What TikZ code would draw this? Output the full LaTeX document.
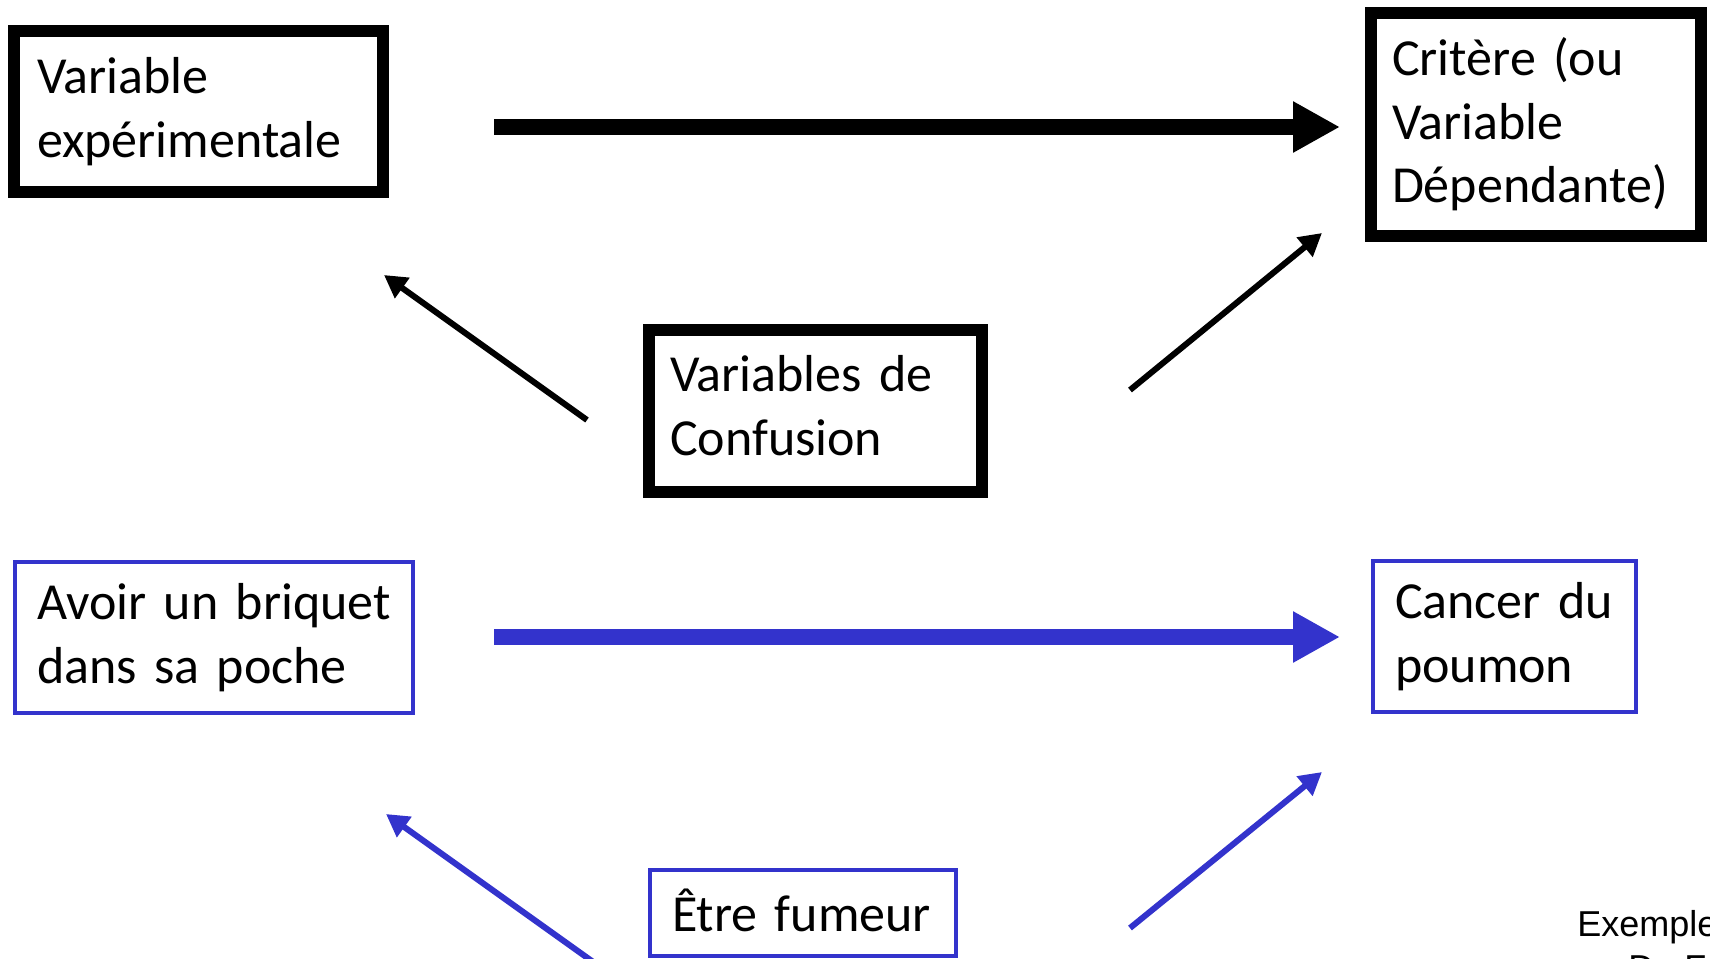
\documentclass[tikz,border=0pt]{standalone}
\usepackage{fontspec}
\setmainfont{Carlito}[WordSpace=0.85]
\newfontfamily\notefont{Liberation Sans}
\usepackage{xcolor}
\usetikzlibrary{arrows.meta}

\definecolor{exblue}{RGB}{51,51,204}

\tikzset{
  varbox/.style={draw, line width=6pt, outer sep=0pt, inner ysep=0pt,
    anchor=north west, align=left, font=\fontsize{26pt}{31.75pt}\selectfont},
  exbox/.style={varbox, draw=exblue, line width=1.75pt},
  bigarrow/.style={-{Triangle[length=23.5pt,width=24pt]}, line width=8pt},
  linkarrow/.style={-{Triangle[length=11.25pt,width=12pt]}, line width=3pt},
}

\begin{document}
\begin{tikzpicture}[x=0.5pt, y=-0.5pt]
  \useasboundingbox (0,0) rectangle (1710,959);
  \clip (0,0) rectangle (1710,959);

  % general scheme
  \node[varbox, inner xsep=11.5pt, text width=161.5pt, minimum height=80.5pt]
    (varexp) at (14,31) {Variable\\expérimentale};
  \node[varbox, inner xsep=10.5pt, text width=144pt, minimum height=111.5pt]
    (critere) at (1371,13) {Critère (ou\\Variable\\Dépendante)};
  \node[varbox, inner xsep=10.5pt, text width=145.5pt, minimum height=81pt,
    text depth=37.5pt] (confusion) at (649,330) {Variables de\\Confusion};

  \coordinate (varexp-end) at (494,127);
  \coordinate (critere-end) at (1340,127);
  \coordinate (conf-left) at (587,420);
  \coordinate (varexp-tip) at (384,275);
  \coordinate (conf-right) at (1130,390);
  \coordinate (critere-tip) at (1322,233);

  \draw[bigarrow] (varexp-end) -- (critere-end);
  \draw[linkarrow] (conf-left) -- (varexp-tip);
  \draw[linkarrow] (conf-right) -- (critere-tip);

  % example: lighter and lung cancer
  \node[exbox, inner xsep=11pt, text width=177pt, minimum height=75.5pt]
    (briquet) at (15,562) {Avoir un briquet\\dans sa poche};
  \node[exbox, inner xsep=11pt, text width=109.5pt, minimum height=75.5pt]
    (cancer) at (1373,561) {Cancer du\\poumon};
  \node[exbox, inner xsep=11pt, text width=131pt, minimum height=43pt,
    text depth=3pt] (fumeur) at (650,870) {Être fumeur};

  \coordinate (briquet-end) at (494,637);
  \coordinate (cancer-end) at (1340,637);
  \coordinate (fumeur-left) at (603,969);
  \coordinate (briquet-tip) at (386,814);
  \coordinate (fumeur-right) at (1130,928);
  \coordinate (cancer-tip) at (1322,772);

  \draw[bigarrow, exblue] (briquet-end) -- (cancer-end);
  \draw[linkarrow, exblue] (fumeur-left) -- (briquet-tip);
  \draw[linkarrow, exblue] (fumeur-right) -- (cancer-tip);

  % note, cut at the page edge
  \node[anchor=base west, inner sep=0pt, font=\notefont\fontsize{18pt}{21pt}\selectfont]
    (exemple) at (1577,936) {Exemple};
  \node[anchor=base west, inner sep=0pt, font=\notefont\fontsize{18pt}{21pt}\selectfont]
    (source) at (1628,980) {De F};
\end{tikzpicture}
\end{document}
